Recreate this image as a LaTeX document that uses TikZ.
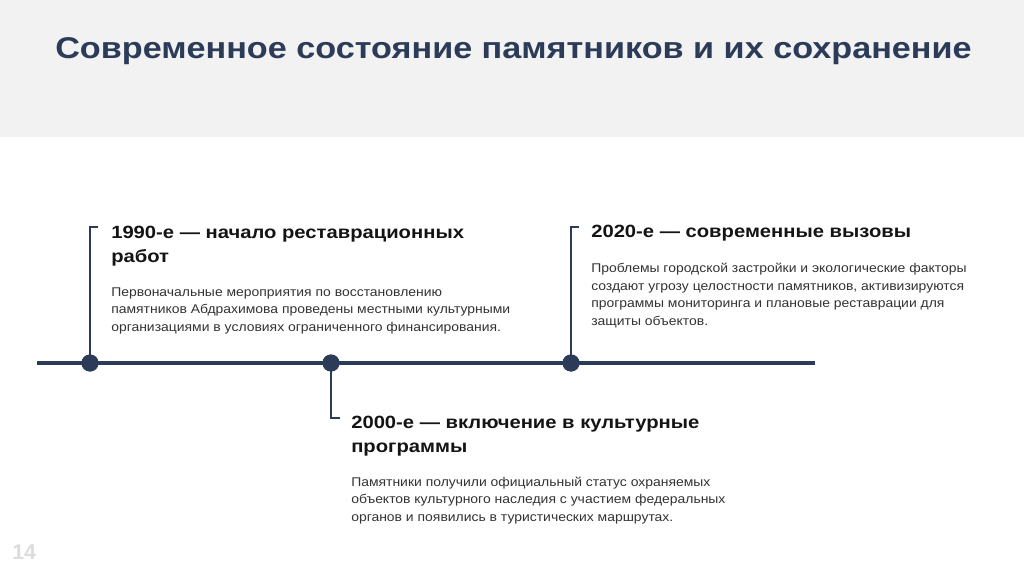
\documentclass[tikz,border=0pt]{standalone}
\usepackage{fontspec}
\setmainfont{Liberation Sans}
\newfontfamily\widesans[FakeStretch=1.14]{Liberation Sans}
\newfontfamily\bodysans[FakeStretch=1.10]{Liberation Sans}
\usetikzlibrary{positioning}
\definecolor{navy}{HTML}{2B3B58}
\definecolor{band}{HTML}{F2F2F2}
\definecolor{pagenum}{HTML}{DCDCDC}

\begin{document}
\begin{tikzpicture}[x=0.75pt,y=-0.75pt,
    dot/.style={circle,fill=navy,inner sep=0pt,minimum size=12.75pt},
    stem/.style={draw=navy,line width=1.5pt},
    heading/.style={anchor=base west,align=left,inner sep=0pt,text=black!92,
        font=\widesans\bfseries\fontsize{13.3}{18}\selectfont},
    body/.style={anchor=base west,align=left,inner sep=0pt,text=black!80,
        font=\bodysans\fontsize{9.5}{13.1}\selectfont}]
    \useasboundingbox (0,0) rectangle (1024,574);
    \fill[white] (0,0) rectangle (1024,574);
    \fill[band] (0,0) rectangle (1024,137);
    \node[anchor=base west,inner sep=0pt,text=navy,font=\widesans\bfseries\fontsize{22.5}{27}\selectfont]
        (title) at (55,59) {Современное состояние памятников и их сохранение};
    \node[anchor=base west,inner sep=0pt,text=pagenum,font=\bfseries\fontsize{16}{19}\selectfont]
        (page) at (12,559) {14};
    % timeline
    \coordinate (tl start) at (37,363);
    \coordinate (tl end) at (815,363);
    \draw[navy,line width=2.3pt] (tl start) -- (tl end);
    \foreach \name/\x in {d1/90,d2/331,d3/571}{
        \node[dot] (\name) at (\x,363) {};
    }
    % brackets
    \coordinate (c1) at (90,227);
    \coordinate (c2) at (331,418);
    \coordinate (c3) at (571,227);
    \draw[stem] (d1.center) -- (c1) -- ++(8,0);
    \draw[stem] (d2.center) -- (c2) -- ++(9,0);
    \draw[stem] (d3.center) -- (c3) -- ++(8,0);
    \node[dot] at (d1) {};
    \node[dot] at (d2) {};
    \node[dot] at (d3) {};
    % texts (base = last line)
    \node[heading] (h1) at (111,262) {1990-е — начало реставрационных\\работ};
    \node[body] (b1) at (111,331) {Первоначальные мероприятия по восстановлению\\
        памятников Абдрахимова проведены местными культурными\\
        организациями в условиях ограниченного финансирования.};
    \node[heading] (h2) at (351,452) {2000-е — включение в культурные\\программы};
    \node[body] (b2) at (351,521) {Памятники получили официальный статус охраняемых\\
        объектов культурного наследия с участием федеральных\\
        органов и появились в туристических маршрутах.};
    \node[heading] (h3) at (591,237) {2020-е — современные вызовы};
    \node[body] (b3) at (591,325) {Проблемы городской застройки и экологические факторы\\
        создают угрозу целостности памятников, активизируются\\
        программы мониторинга и плановые реставрации для\\
        защиты объектов.};
\end{tikzpicture}
\end{document}
